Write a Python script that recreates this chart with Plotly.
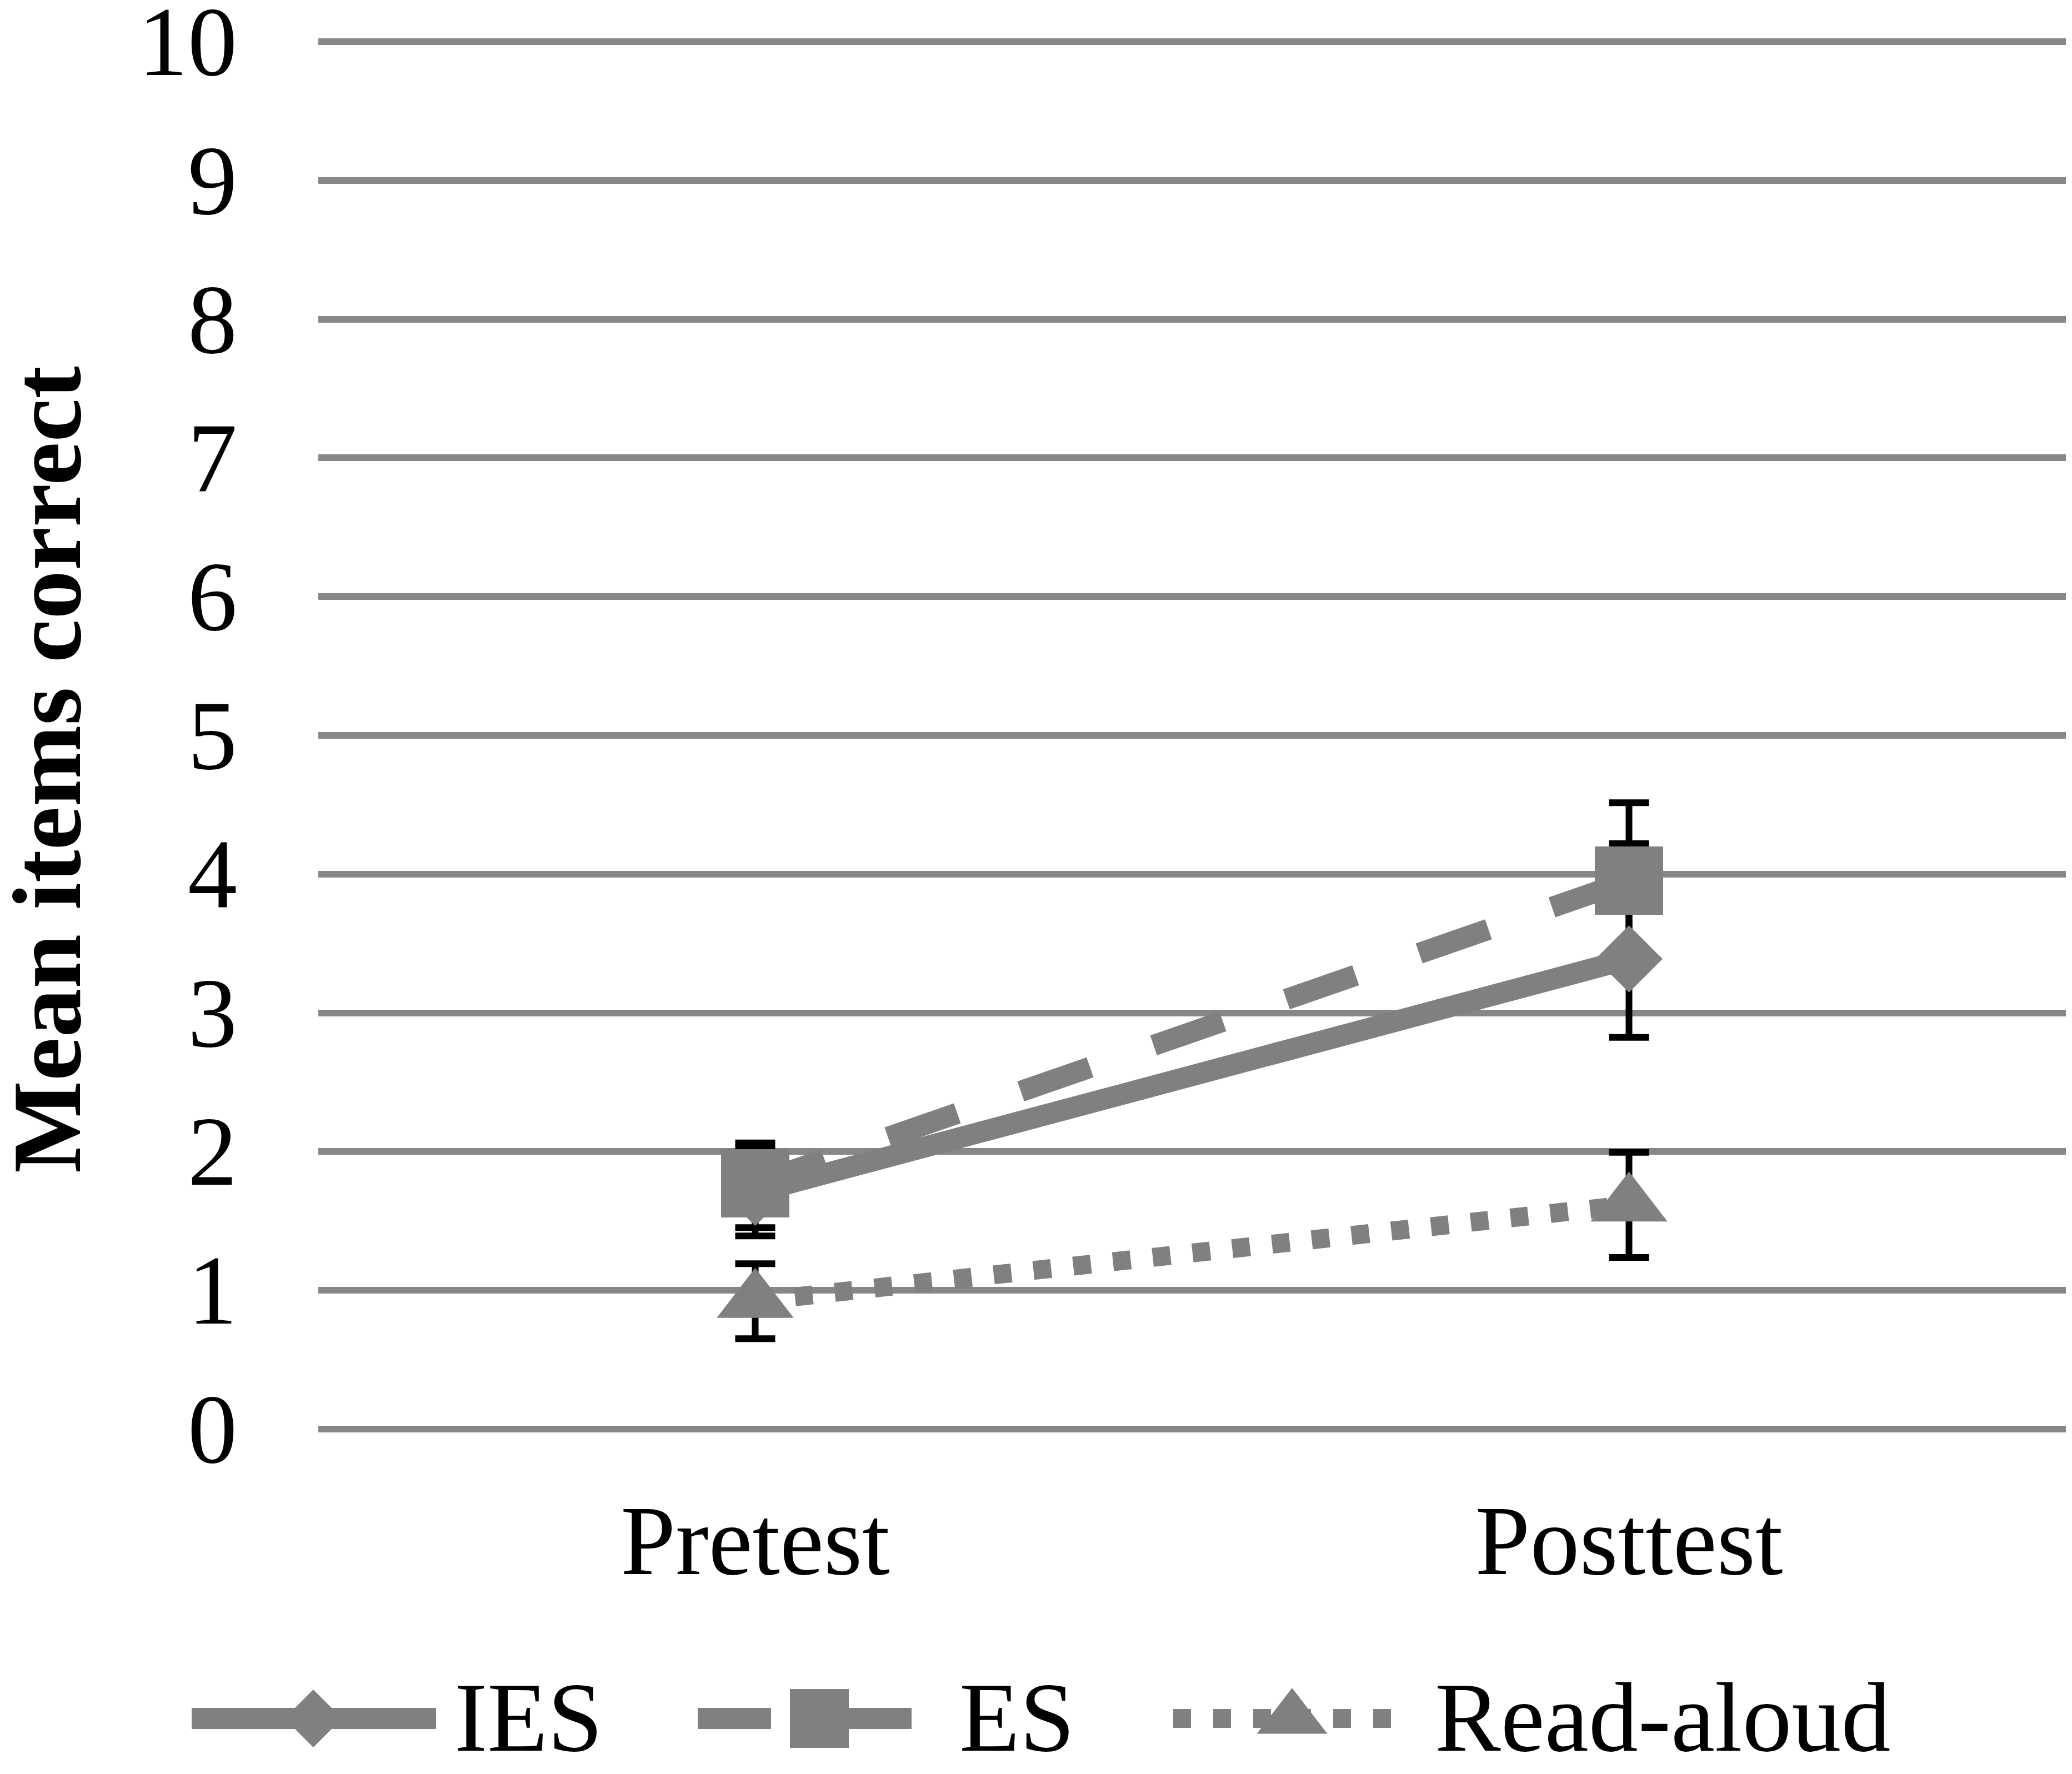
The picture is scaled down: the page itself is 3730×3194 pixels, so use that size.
import plotly.graph_objects as go

# Figure is a bit taller than the window; the photo keeps the top 3194px 1:1.
W, H = 3714, 3275
M = 8  # body margin of the page

# values
phases = ["Pretest", "Posttest"]
ies = [1.706, 3.389]
ies_plus = [0.314, 0.830]
ies_minus = [0.314, 0.566]
es = [1.771, 3.953]
es_plus = [0.292, 0.562]
es_minus = [0.319, 0.562]
read_aloud = [0.922, 1.616]
ra_plus = [0.270, 0.379]
ra_minus = [0.270, 0.379]
y_ticks = [0, 1, 2, 3, 4, 5, 6, 7, 8, 9, 10]

GREY = "#808080"
GRID = "#878787"
FONT = "Liberation Serif"


def px(x):
    # page x pixel -> paper fraction
    return (x - M) / W


def py(y):
    # page y pixel -> paper fraction
    return 1 - (y - M) / H


# name, values, err+, err-, line width, dash, symbol, size
series = [
    ("IES", ies, ies_plus, ies_minus, 38, "solid", "diamond", 93),
    ("ES", es, es_plus, es_minus, 38, "132px,121px", "square", 123),
    ("Read-aloud", read_aloud, ra_plus, ra_minus, 34, "32px,40px", "triangle-up", 120),
]

fig = go.Figure()

# error bars first so every marker sits on top of them
for name, vals, plus, minus, lw, dash, sym, size in series:
    fig.add_trace(go.Scatter(
        x=phases, y=vals, mode="markers",
        marker=dict(size=1, opacity=0),
        error_y=dict(type="data", symmetric=False, array=plus, arrayminus=minus,
                     color="black", thickness=12, width=36),
        hoverinfo="skip", showlegend=False,
    ))

for name, vals, plus, minus, lw, dash, sym, size in series:
    fig.add_trace(go.Scatter(
        x=phases, y=vals, name=name, mode="lines+markers",
        line=dict(color=GREY, width=lw, dash=dash),
        marker=dict(symbol=sym, size=size, color=GREY),
        showlegend=False,
    ))

# hand-made legend along the bottom (page pixels on a hidden overlay axis)
legend_y = 3094
legend_items = [
    # x0, x1, marker x, marker size, text x
    (345, 785, 564, 80, 816),
    (1256, 1653, 1475, 106, 1725),
    (2112, 2505, 2326, 110, 2581),
]
for (name, vals, plus, minus, lw, dash, sym, size), (x0, x1, xm, ms, xt) in zip(series, legend_items):
    fig.add_trace(go.Scatter(
        x=[x0, x1], y=[legend_y, legend_y], mode="lines", xaxis="x2", yaxis="y2",
        line=dict(color=GREY, width=lw, dash=dash),
        hoverinfo="skip", showlegend=False,
    ))
    fig.add_trace(go.Scatter(
        x=[xm], y=[legend_y], mode="markers", xaxis="x2", yaxis="y2",
        marker=dict(symbol=sym, size=ms, color=GREY),
        hoverinfo="skip", showlegend=False, cliponaxis=False,
    ))
    fig.add_annotation(
        x=px(xt), y=py(legend_y - 2), xref="paper", yref="paper",
        text=name, showarrow=False, xanchor="left", yanchor="middle",
        font=dict(family=FONT, size=178, color="black"),
    )

# y tick labels, placed on the y axis scale
for v in y_ticks:
    fig.add_annotation(
        x=px(429), y=v, xref="paper", yref="y",
        text=str(v), showarrow=False, xanchor="right", yanchor="middle",
        height=144, valign="middle",
        font=dict(family=FONT, size=178, color="black"),
    )

fig.add_annotation(
    x=px(84), y=py(1386), xref="paper", yref="paper",
    text="<b>Mean items correct</b>", textangle=-90, showarrow=False,
    xanchor="center", yanchor="middle", height=140, valign="middle",
    font=dict(family=FONT, size=176, color="black"),
)

# y=0 sits at 2573px and y=10 at 75px; pad the range so both end gridlines show
unit = (2573 - 75) / 10
pad = 0.03
fig.update_layout(
    width=W, height=H,
    margin=dict(l=0, r=0, t=0, b=0),
    paper_bgcolor="white", plot_bgcolor="rgba(0,0,0,0)",
    font=dict(family=FONT, color="black"),
    showlegend=False,
    xaxis=dict(
        domain=[px(573), px(3719)], type="category", range=[-0.5, 1.5],
        showgrid=False, zeroline=False, showline=False, ticks="",
        tickfont=dict(family=FONT, size=178, color="black"),
        ticklabelstandoff=75,
    ),
    yaxis=dict(
        domain=[py(2573 + pad * unit), py(75 - pad * unit)], range=[-pad, 10 + pad],
        tickvals=y_ticks, showgrid=True, gridcolor=GRID, gridwidth=12,
        zeroline=False, showline=False, ticks="", showticklabels=False,
    ),
    xaxis2=dict(domain=[0, 1], range=[M, M + W], visible=False, anchor="y2"),
    yaxis2=dict(domain=[0, 1], range=[M + H, M], visible=False, anchor="x2"),
)

fig.write_html("out.html")
